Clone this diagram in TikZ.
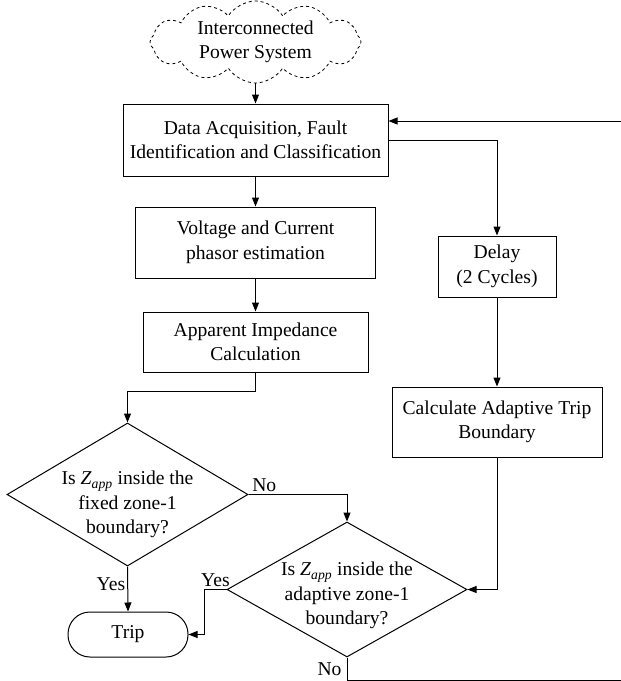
\documentclass[tikz,border=0pt]{standalone}
\usepackage{fontspec}
\setmainfont{Liberation Serif}
\usepackage{tikz}
\usetikzlibrary{calc,arrows.meta,shapes.geometric,shapes.symbols}

\newcommand{\zapp}{\textit{Z}\textsubscript{\textit{app}}}

\begin{document}
\begin{tikzpicture}[x=1pt,y=-1pt]
\tikzset{
    box/.style={rectangle, draw, line width=1pt, align=center, inner sep=0pt},
    dec/.style={diamond, draw, line width=1pt, align=center, inner sep=-10pt},
    arr/.style={line width=1pt, -{Triangle[length=9pt,width=7pt]}},
    lbl/.style={inner sep=2pt}
}
\tikzstyle{every node}=[font=\fontsize{19.6}{24.5}\selectfont]

\useasboundingbox (0,0) rectangle (621,681);

\node[cloud, draw, dashed, line width=0.8pt, cloud puffs=12, cloud puff arc=115,
      aspect=2.85, inner sep=0pt, minimum width=211pt, minimum height=74pt,
      align=center] (sys) at (255.5,42) {Interconnected\\Power System};
\node[box, minimum width=265pt, minimum height=72pt] (daq) at (255.5,140)
      {Data Acquisition, Fault\\Identification and Classification};
\node[box, minimum width=240pt, minimum height=71pt] (phasor) at (255.5,242.5)
      {Voltage and Current\\phasor estimation};
\node[box, minimum width=225pt, minimum height=60pt] (zimp) at (255.5,342)
      {Apparent Impedance\\Calculation};
\node[box, minimum width=118pt, minimum height=61pt] (delay) at (497,266.5)
      {Delay\\(2 Cycles)};
\node[box, minimum width=210pt, minimum height=70pt] (calc) at (497,422)
      {Calculate Adaptive Trip\\Boundary};
\node[dec, aspect=1.69, minimum width=241pt, minimum height=143pt] (dia1)
      at (127.5,494.5) {\rule{0pt}{34pt}Is \zapp{} inside the\\fixed zone-1\\boundary?};
\node[dec, aspect=1.78, minimum width=240pt, minimum height=135pt] (dia2)
      at (347,589.5) {\rule{0pt}{26pt}Is \zapp{} inside the\\adaptive zone-1\\boundary?};
\node[box, rounded corners=22pt, minimum width=120pt, minimum height=45pt] (trip)
      at (128,634.5) {Trip};

\draw[arr] (sys.south) -- (daq.north);
\draw[arr] (daq) -- (phasor);
\draw[arr] (phasor) -- (zimp);
\draw[arr] (zimp.south) -- ++(0,19) -| (dia1.north);
\draw[arr] (daq.east) -| (delay.north);
\draw[arr] (delay) -- (calc);
\draw[arr] (calc.south) |- (dia2.east);
\draw[arr] (dia1.east) -| node[lbl, pos=0.08, above] {No} (dia2.north);
\draw[arr] (dia1.south) -- node[lbl, left, pos=0.4] {Yes} (trip.north);
\draw[arr] (dia2.west) -- node[lbl, above] {Yes} ++(-22,0) |- (trip.east);

% loop back to the top
\coordinate (fb) at (625,680);
\draw[arr] (dia2.south) -- node[lbl, left, xshift=-3pt] {No} (dia2.south |- fb)
      -- (fb) |- ($(daq.east)+(0,-19)$);
\end{tikzpicture}
\end{document}
